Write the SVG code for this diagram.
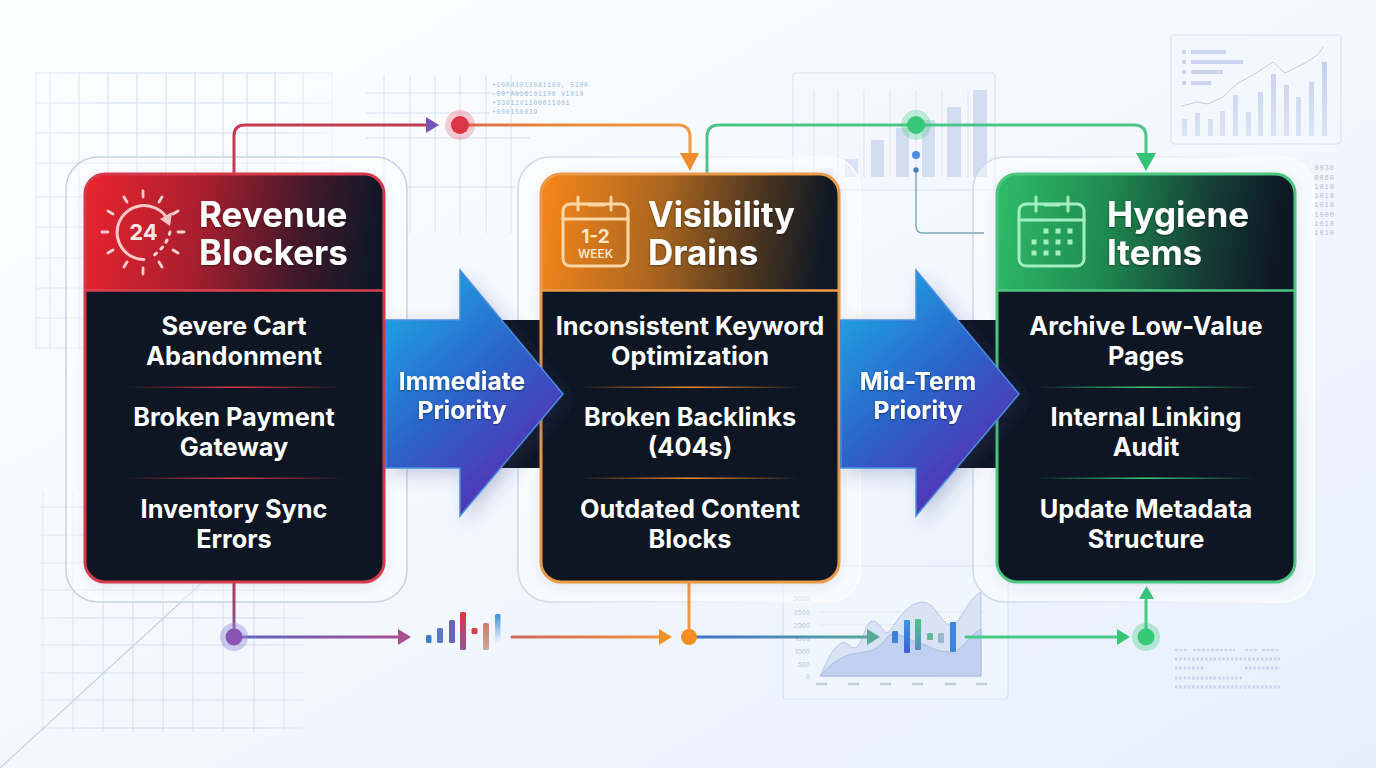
<svg xmlns="http://www.w3.org/2000/svg" width="1376" height="768" viewBox="0 0 1376 768">
<style>
text{font-family:Inter,"Noto Sans","Liberation Sans",sans-serif}
.title{font-size:35px;font-weight:700;fill:#fff;filter:url(#ts)}
.item{font-size:25.300px;font-weight:700;fill:#fff;text-anchor:middle}
.alabel{font-size:24.600px;font-weight:700;fill:#fff;text-anchor:middle;filter:url(#ts)}
.grid{stroke:#d3ddec;stroke-width:1;fill:none}
.panel{fill:#f3f7fd;fill-opacity:.55;stroke:#d9e1ee;stroke-width:1.2}
.halo{fill:#fff;fill-opacity:.42;stroke-width:1.5}
.bin{font-family:"Liberation Mono",monospace;font-size:6.500px;letter-spacing:.7px;fill:#9dbbd6}
.bin2{font-family:"Liberation Mono",monospace;font-size:7px;letter-spacing:1px;fill:#b3bdcf;text-anchor:end}
.tick{font-size:6.500px;fill:#c3ccde;text-anchor:end;font-weight:500}
.c{fill:none;stroke-width:3;stroke-linecap:round}
.ic{fill:none;stroke-width:3;stroke-linecap:round;stroke-linejoin:round}
.bar{fill:#d3ddf2}
</style>
<defs>
<linearGradient id="bg" x1="0" y1="0" x2="1" y2="1"><stop offset="0" stop-color="#fdfeff"/><stop offset=".5" stop-color="#f4f8fe"/><stop offset="1" stop-color="#e6effc"/></linearGradient>
<linearGradient id="h1" gradientUnits="userSpaceOnUse" x1="85" y1="205" x2="382" y2="255"><stop offset="0" stop-color="#e8232e"/><stop offset=".38" stop-color="#a91f2e"/><stop offset=".72" stop-color="#43192b"/><stop offset=".97" stop-color="#0f1725"/></linearGradient>
<linearGradient id="h2" gradientUnits="userSpaceOnUse" x1="541" y1="205" x2="830" y2="245"><stop offset="0" stop-color="#f5861a"/><stop offset=".42" stop-color="#a9651f"/><stop offset=".75" stop-color="#4a3520"/><stop offset=".98" stop-color="#0f1824"/></linearGradient>
<linearGradient id="h3" gradientUnits="userSpaceOnUse" x1="997" y1="205" x2="1286" y2="245"><stop offset="0" stop-color="#2fbb68"/><stop offset=".38" stop-color="#1f8a50"/><stop offset=".72" stop-color="#153f37"/><stop offset=".97" stop-color="#0e1824"/></linearGradient>
<linearGradient id="a1" gradientUnits="userSpaceOnUse" x1="390" y1="310" x2="540" y2="480"><stop offset="0" stop-color="#1fa0e2"/><stop offset=".5" stop-color="#2c62c8"/><stop offset="1" stop-color="#5a2bb3"/></linearGradient>
<linearGradient id="a2" gradientUnits="userSpaceOnUse" x1="845" y1="310" x2="995" y2="480"><stop offset="0" stop-color="#1fa0e2"/><stop offset=".5" stop-color="#2c62c8"/><stop offset="1" stop-color="#5a2bb3"/></linearGradient>
<linearGradient id="d1" gradientUnits="userSpaceOnUse" x1="125" y1="0" x2="345" y2="0"><stop offset="0" stop-color="#d8394b" stop-opacity="0"/><stop offset=".5" stop-color="#d8394b"/><stop offset="1" stop-color="#d8394b" stop-opacity="0"/></linearGradient>
<linearGradient id="d2" gradientUnits="userSpaceOnUse" x1="580" y1="0" x2="800" y2="0"><stop offset="0" stop-color="#f08c2a" stop-opacity="0"/><stop offset=".5" stop-color="#f08c2a"/><stop offset="1" stop-color="#f08c2a" stop-opacity="0"/></linearGradient>
<linearGradient id="d3" gradientUnits="userSpaceOnUse" x1="1036" y1="0" x2="1256" y2="0"><stop offset="0" stop-color="#3ccb7c" stop-opacity="0"/><stop offset=".5" stop-color="#3ccb7c"/><stop offset="1" stop-color="#3ccb7c" stop-opacity="0"/></linearGradient>
<linearGradient id="l2" gradientUnits="userSpaceOnUse" x1="460" y1="0" x2="690" y2="0"><stop offset="0" stop-color="#d9694a"/><stop offset=".4" stop-color="#e58a3c"/><stop offset="1" stop-color="#f09a45"/></linearGradient>
<linearGradient id="l3" gradientUnits="userSpaceOnUse" x1="234" y1="0" x2="400" y2="0"><stop offset="0" stop-color="#5a68c4"/><stop offset="1" stop-color="#a8508e"/></linearGradient>
<linearGradient id="l4" gradientUnits="userSpaceOnUse" x1="511" y1="0" x2="660" y2="0"><stop offset="0" stop-color="#cc6a5a"/><stop offset="1" stop-color="#ee9440"/></linearGradient>
<linearGradient id="l5" gradientUnits="userSpaceOnUse" x1="696" y1="0" x2="870" y2="0"><stop offset="0" stop-color="#4470cc"/><stop offset="1" stop-color="#58a89c"/></linearGradient>
<linearGradient id="v1" gradientUnits="userSpaceOnUse" x1="0" y1="582" x2="0" y2="637"><stop offset="0" stop-color="#b23a50"/><stop offset="1" stop-color="#7f5a9c"/></linearGradient>
<linearGradient id="hs" x1="0" y1="0" x2="1" y2="0"><stop offset="0" stop-color="#ced9ea"/><stop offset=".5" stop-color="#e6ecf6"/><stop offset="1" stop-color="#fff"/></linearGradient>
<linearGradient id="b1" x1="0" y1="0" x2="0" y2="1"><stop offset="0" stop-color="#e03344"/><stop offset="1" stop-color="#8b5a9c"/></linearGradient>
<linearGradient id="b2" x1="0" y1="0" x2="0" y2="1"><stop offset="0" stop-color="#3f8fdc"/><stop offset="1" stop-color="#3f8fdc" stop-opacity="0"/></linearGradient>
<linearGradient id="b3" x1="0" y1="0" x2="0" y2="1"><stop offset="0" stop-color="#d07a6a"/><stop offset="1" stop-color="#c9a89e"/></linearGradient>
<linearGradient id="b4" x1="0" y1="0" x2="0" y2="1"><stop offset="0" stop-color="#3f96de"/><stop offset="1" stop-color="#3d5fd0"/></linearGradient>
<linearGradient id="b5" x1="0" y1="0" x2="0" y2="1"><stop offset="0" stop-color="#4cc57f"/><stop offset="1" stop-color="#5a8ac8"/></linearGradient>
<linearGradient id="fv" gradientUnits="userSpaceOnUse" x1="0" y1="60" x2="0" y2="136"><stop offset="0" stop-color="#bfcbea" stop-opacity=".9"/><stop offset="1" stop-color="#d3dcf2" stop-opacity=".75"/></linearGradient>
<linearGradient id="fx" x1="0" y1="0" x2="1" y2="0"><stop offset="0" stop-color="#fff" stop-opacity=".5"/><stop offset=".25" stop-color="#fff"/><stop offset=".8" stop-color="#fff"/><stop offset="1" stop-color="#fff" stop-opacity=".2"/></linearGradient>
<mask id="mg1" maskUnits="userSpaceOnUse" x="30" y="60" width="310" height="320"><rect x="30" y="60" width="310" height="320" fill="url(#fx)"/></mask>
<mask id="mg2" maskUnits="userSpaceOnUse" x="30" y="480" width="290" height="260"><rect x="30" y="480" width="290" height="260" fill="url(#fx)"/></mask>
<filter id="ts" x="-10%" y="-20%" width="120%" height="150%"><feDropShadow dx="0" dy="1" stdDeviation="1.200" flood-color="#000" flood-opacity=".45"/></filter>
<filter id="ds" x="-20%" y="-20%" width="150%" height="140%"><feDropShadow dx="6" dy="6" stdDeviation="9" flood-color="#2a3a80" flood-opacity=".25"/></filter>
<filter id="cs" x="-10%" y="-10%" width="120%" height="120%"><feDropShadow dx="0" dy="3" stdDeviation="6" flood-color="#3a4a70" flood-opacity=".14"/></filter>
<clipPath id="cp1"><rect x="85" y="174" width="299" height="116" rx="20"/><rect x="85" y="220" width="299" height="70"/></clipPath>
<clipPath id="cp2"><rect x="541" y="174" width="298" height="116" rx="20"/><rect x="541" y="220" width="298" height="70"/></clipPath>
<clipPath id="cp3"><rect x="997" y="174" width="298" height="116" rx="20"/><rect x="997" y="220" width="298" height="70"/></clipPath>
</defs>

<rect id="background" width="1376" height="768" fill="url(#bg)"/>

<g id="backdrop">
<g mask="url(#mg1)" class="grid">
<path d="M36 72V350M50 72V350M79 72V350M108 72V350M137 72V350M166 72V350M195 72V350M223 72V350M247 72V350M275 72V350M303 72V350M332 72V350"/>
<path d="M36 73H332M36 103H332M36 133H332M36 163H332M36 197H332M36 227H332M36 258H332M36 288H332M36 318H332M36 348H332"/>
</g>
<g mask="url(#mg2)" class="grid">
<path d="M43 490V732M73 490V732M103 490V732M133 490V732M163 490V732M193 490V732M223 490V732M254 490V732M284 490V732"/>
<path d="M40 507H305M40 535H305M40 563H305M40 590H305M40 618H305M40 645H305M40 673H305M40 700H305M40 728H305"/>
</g>
<path d="M0 768L205 580" stroke="#c5d2e6" stroke-width="1.200" fill="none"/>
<path class="grid" d="M384 75V233M410 75V233M435 75V233M460 75V233M486 75V233M511 75V233M366 93H530M366 113H490M366 138H530M405 187H515" opacity=".85"/>
<text class="bin" x="492" y="87">+10041011081100, 5100</text>
<text class="bin" x="492" y="96">-00*A016101100 V1010</text>
<text class="bin" x="492" y="105">+33011V1100011001</text>
<text class="bin" x="492" y="114">+0001S0039</text>

<g id="chart-mid">
<rect class="panel" x="793" y="73" width="202" height="117" rx="3"/>
<path d="M814 90V177M838 90V177M864 90V177M890 90V177M916 90V177M942 90V177M968 90V177" stroke="#dde3ef" stroke-width="1" fill="none"/>
<rect class="bar" x="820" y="168" width="13" height="9" opacity=".6"/><rect class="bar" x="845" y="159" width="13" height="18" opacity=".8"/><rect class="bar" x="871" y="140" width="13" height="37"/><rect class="bar" x="896" y="128" width="13" height="49"/><rect class="bar" x="922" y="120" width="13" height="57"/><rect class="bar" x="947" y="107" width="14" height="70"/><rect class="bar" x="973" y="90" width="14" height="87"/>
</g>

<g id="chart-top-right">
<rect class="panel" x="1171" y="35" width="170" height="109" rx="4"/>
<g fill="#ccd5ee"><rect x="1182" y="50" width="4" height="4"/><rect x="1182" y="60" width="4" height="4"/><rect x="1182" y="70" width="4" height="4"/><rect x="1182" y="81" width="4" height="4"/><rect x="1191" y="50" width="35" height="4"/><rect x="1191" y="60" width="52" height="4"/><rect x="1191" y="70" width="32" height="4"/><rect x="1191" y="81" width="20" height="4"/></g>
<g fill="url(#fv)"><rect x="1182" y="119" width="5" height="17"/><rect x="1195" y="113" width="5" height="23"/><rect x="1208" y="119" width="5" height="17"/><rect x="1220" y="111" width="5" height="25"/><rect x="1233" y="95" width="5" height="41"/><rect x="1246" y="112" width="5" height="24"/><rect x="1258" y="92" width="5" height="44"/><rect x="1271" y="74" width="5" height="62"/><rect x="1284" y="85" width="5" height="51"/><rect x="1296" y="97" width="5" height="39"/><rect x="1309" y="82" width="5" height="54"/><rect x="1322" y="62" width="5" height="74"/></g>
<path d="M1182 106L1197 102L1208 104L1223 97Q1232 88 1238 83L1253 75L1273 62L1285 73L1307 62Q1320 54 1323 47" fill="none" stroke="#c2cce2" stroke-width="1"/>
</g>
<g>
<text class="bin2" x="1335" y="170">0030</text><text class="bin2" x="1335" y="180">0060</text><text class="bin2" x="1335" y="189">1010</text><text class="bin2" x="1335" y="198">1018</text><text class="bin2" x="1335" y="207">1010</text><text class="bin2" x="1335" y="217">1000</text><text class="bin2" x="1335" y="226">1010</text><text class="bin2" x="1335" y="235">1010</text>
</g>

<g id="chart-bottom">
<rect class="panel" x="783" y="566" width="225" height="133" rx="3"/>
<path d="M818 612H985M818 625H985M818 638H985" stroke="#e3e9f4" stroke-width="1" fill="none"/>
<text class="tick" x="810" y="601">3000</text><text class="tick" x="810" y="615">2500</text><text class="tick" x="810" y="628">2000</text><text class="tick" x="810" y="641">1500</text><text class="tick" x="810" y="654">1000</text><text class="tick" x="810" y="667">500</text><text class="tick" x="810" y="679">0</text>
<path d="M820 676C826 665 830 650 841 643C848 640 852 652 858 646C864 638 866 621 873 621C880 621 884 636 889 632C896 622 908 602 923 602C936 602 940 625 952 625C960 625 966 600 981 592V676Z" fill="#d3dff3" fill-opacity=".85" stroke="#b0bfe0" stroke-width=".8"/>
<path d="M820 676C830 664 842 655 857 653C870 652 878 650 889 635C900 632 908 640 917 642C930 646 936 652 950 652C962 652 970 634 981 629V676Z" fill="#bfcdf0" fill-opacity=".9" stroke="#a7b7dc" stroke-width=".8"/>
<path d="M816 684H827M848 684H859M880 684H891M912 684H923M945 684H956M976 684H987" stroke="#c3ccdf" stroke-width="2.500"/>
</g>
<path d="M1175 650H1188M1193 650H1235M1245 650H1258M1262 650H1280" stroke="#c2cde2" stroke-width="1.500" stroke-dasharray="3 1.500" fill="none"/>
<path d="M1175 659H1280M1175 668H1205M1245 668H1280M1175 678H1243M1175 687H1280" stroke="#b8c5de" stroke-width="3" stroke-dasharray="2.500 1.800" fill="none" opacity=".65"/>
</g>

<g id="halos">
<rect class="halo" x="66" y="157" width="341" height="445" rx="32" stroke="#c5d3e8"/>
<rect class="halo" x="518" y="157" width="342" height="445" rx="32" stroke="url(#hs)"/>
<rect class="halo" x="973" y="157" width="341" height="445" rx="32" stroke="url(#hs)"/>
</g>

<g id="connectors">
<path class="c" stroke="#c23c56" d="M234 174V136Q234 125 245 125H430"/>
<polygon points="426,117 426,133 439,125" fill="#7a55b8"/>
<path class="c" stroke="url(#l2)" d="M460 125H678Q690 125 690 137V155"/>
<polygon points="680,153 699,153 690,171" fill="#f08c2a"/>
<path class="c" stroke="#4cc48a" d="M707 174V137Q707 125 719 125H1134Q1146 125 1146 137V155"/>
<polygon points="1136,153 1156,153 1146,171" fill="#35c377"/>
<path d="M916 170V226Q916 233 923 233H984" fill="none" stroke="#7aa5b8" stroke-width="1.400"/>
<circle cx="916" cy="155" r="4" fill="#4a8fe0"/><circle cx="916" cy="170" r="2.700" fill="#3f80c8"/>
<path class="c" stroke="url(#v1)" d="M234 582V637"/>
<path class="c" stroke="url(#l3)" d="M234 637H400"/>
<polygon points="398,629 398,645 411,637" fill="#a8508e"/>
<path class="c" stroke="url(#l4)" d="M512 637H660"/>
<polygon points="659,629 659,645 672,637" fill="#f39026"/>
<path class="c" stroke="#eb9a48" d="M689 582V637"/>
<path class="c" stroke="url(#l5)" d="M696 637H870"/>
<polygon points="867,629 867,645 880,637" fill="#58a89c"/>
<path class="c" stroke="#48c884" d="M966 637H1118"/>
<polygon points="1117,629 1117,645 1130,637" fill="#3ac579"/>
<path class="c" stroke="#48c884" d="M1146 637V600"/>
<polygon points="1139,599 1154,599 1146.500,586" fill="#3ac579"/>
</g>
<g id="junctions">
<circle cx="460" cy="125" r="15" fill="#e8485a" opacity=".28"/><circle cx="460" cy="125" r="9" fill="#dd3545"/>
<circle cx="916" cy="125" r="15" fill="#3ccb7c" opacity=".3"/><circle cx="916" cy="125" r="9" fill="#38c878"/>
<circle cx="234" cy="637" r="14" fill="#8f88d8" opacity=".4"/><circle cx="234" cy="637" r="8.500" fill="#8a55b0"/>
<circle cx="689" cy="637" r="8" fill="#f68d22"/>
<circle cx="1146" cy="637" r="14" fill="#3ccb7c" opacity=".32"/><circle cx="1146" cy="637" r="8.500" fill="#35ca75"/>
</g>
<g id="signal-bars-1">
<rect x="426" y="635" width="5.500" height="8" rx="1.500" fill="#3f7fd0"/><rect x="437" y="628" width="6" height="15" rx="1.500" fill="#5d78c8"/><rect x="449" y="620" width="6" height="23" rx="1.500" fill="#6a62b8"/><rect x="460" y="612" width="6" height="38" rx="1.500" fill="url(#b1)"/><rect x="471.500" y="628" width="6" height="6" rx="1.500" fill="#cf4050"/><rect x="483" y="623" width="6" height="27" rx="1.500" fill="url(#b3)"/><rect x="495" y="614" width="5.500" height="29" rx="1.500" fill="url(#b2)"/>
</g>
<g id="signal-bars-2">
<rect x="892" y="631" width="6" height="12" rx="1" fill="#3d80d4"/><rect x="904" y="620" width="6" height="33" rx="1" fill="url(#b4)"/><rect x="915" y="619" width="6" height="31" rx="1" fill="url(#b5)"/><rect x="927" y="633" width="6" height="7" rx="1" fill="#62ba94"/><rect x="938" y="633" width="6" height="10" rx="1" fill="#9ab8cc"/><rect x="950" y="622" width="6" height="30" rx="1" fill="#3a86dc"/>
</g>

<g id="dark-bands"><rect x="384" y="320" width="157" height="148" fill="#0f1623"/><rect x="839" y="320" width="158" height="148" fill="#0f1623"/></g>

<g id="node-revenue-blockers">
<rect x="85" y="174" width="299" height="408" rx="20" fill="#0f1623" filter="url(#cs)"/>
<g clip-path="url(#cp1)"><rect x="85" y="174" width="299" height="116" fill="url(#h1)"/></g>
<rect x="85" y="174" width="299" height="408" rx="20" fill="none" stroke="#d53a4b" stroke-width="3"/>
<path d="M85 290.500H384" stroke="#d9404f" stroke-width="2.500"/>
<g class="ic" stroke="#fcd0d0">
<path d="M144 259.500A27 27 0 1 1 169 222" stroke="#ffc9c9"/>
<path d="M170 232Q166 248 150 258" stroke-dasharray="2.500 6"/>
<path d="M143 191V197M124 197L127 202M162 197L159 202M108 211L113 214M178 211L173 214M102 232H108M184 232H178M108 253L113 250M178 253L173 250M124 267L127 262M162 267L159 262M143 274V268" stroke-width="2.800"/>
</g>
<polygon points="172,212 170,226 160,219" fill="#fbc3c6"/>
<text x="143.500" y="240" font-size="22" font-weight="700" fill="#fde6e6" text-anchor="middle">24</text>
<text class="title" x="199" y="227">Revenue</text><text class="title" x="199" y="265">Blockers</text>
<text class="item" x="234" y="335">Severe Cart</text><text class="item" x="234" y="365">Abandonment</text>
<rect x="125" y="386.500" width="220" height="1.500" fill="url(#d1)"/>
<text class="item" x="234" y="426">Broken Payment</text><text class="item" x="234" y="456">Gateway</text>
<rect x="125" y="477.500" width="220" height="1.500" fill="url(#d1)"/>
<text class="item" x="234" y="518">Inventory Sync</text><text class="item" x="234" y="548">Errors</text>
</g>

<g id="node-visibility-drains">
<rect x="541" y="174" width="298" height="408" rx="20" fill="#0f1623" filter="url(#cs)"/>
<g clip-path="url(#cp2)"><rect x="541" y="174" width="298" height="116" fill="url(#h2)"/></g>
<rect x="541" y="174" width="298" height="408" rx="20" fill="none" stroke="#ea9a48" stroke-width="3"/>
<path d="M541 290.500H839" stroke="#ec9a48" stroke-width="2.500"/>
<g class="ic" stroke="#fbd7a8">
<rect x="563" y="204" width="65" height="62" rx="7"/><path d="M563 219H628M578 197V210M611 197V210M589 205H604"/>
</g>
<text x="595.500" y="243" font-size="19" font-weight="700" fill="#fde6c8" text-anchor="middle">1-2</text>
<text x="595.500" y="258" font-size="12" font-weight="600" fill="#fde6c8" text-anchor="middle">WEEK</text>
<text class="title" x="648" y="227" textLength="147" lengthAdjust="spacingAndGlyphs">Visibility</text><text class="title" x="648" y="265">Drains</text>
<text class="item" x="690" y="335">Inconsistent Keyword</text><text class="item" x="690" y="365">Optimization</text>
<rect x="580" y="386.500" width="220" height="1.500" fill="url(#d2)"/>
<text class="item" x="690" y="426">Broken Backlinks</text><text class="item" x="690" y="456">(404s)</text>
<rect x="580" y="477.500" width="220" height="1.500" fill="url(#d2)"/>
<text class="item" x="690" y="518">Outdated Content</text><text class="item" x="690" y="548">Blocks</text>
</g>

<g id="node-hygiene-items">
<rect x="997" y="174" width="298" height="408" rx="20" fill="#0f1623" filter="url(#cs)"/>
<g clip-path="url(#cp3)"><rect x="997" y="174" width="298" height="116" fill="url(#h3)"/></g>
<rect x="997" y="174" width="298" height="408" rx="20" fill="none" stroke="#4cc680" stroke-width="3"/>
<path d="M997 290.500H1295" stroke="#4cc680" stroke-width="2.500"/>
<g class="ic" stroke="#a4efc2">
<rect x="1019" y="204" width="65" height="62" rx="7"/><path d="M1019 220H1084M1036 197V211M1068 197V211M1045 205H1059"/>
</g>
<g fill="#a4efc2"><rect x="1043.500" y="228.500" width="5" height="5"/><rect x="1055.500" y="228.500" width="5" height="5"/><rect x="1067.500" y="228.500" width="5" height="5"/><rect x="1031.500" y="239.500" width="5" height="5"/><rect x="1043.500" y="239.500" width="5" height="5"/><rect x="1055.500" y="239.500" width="5" height="5"/><rect x="1067.500" y="239.500" width="5" height="5"/><rect x="1031.500" y="250.500" width="5" height="5"/><rect x="1043.500" y="250.500" width="5" height="5"/><rect x="1055.500" y="250.500" width="5" height="5"/></g>
<text class="title" x="1107" y="227">Hygiene</text><text class="title" x="1107" y="265">Items</text>
<text class="item" x="1146" y="335">Archive Low-Value</text><text class="item" x="1146" y="365">Pages</text>
<rect x="1036" y="386.500" width="220" height="1.500" fill="url(#d3)"/>
<text class="item" x="1146" y="426">Internal Linking</text><text class="item" x="1146" y="456">Audit</text>
<rect x="1036" y="477.500" width="220" height="1.500" fill="url(#d3)"/>
<text class="item" x="1146" y="518">Update Metadata</text><text class="item" x="1146" y="548">Structure</text>
</g>

<g id="arrow-immediate-priority">
<polygon points="386,320 460,320 460,270 563,394 460,516 460,468 386,468" fill="url(#a1)" stroke="#4a8ee0" stroke-width="1.500" filter="url(#ds)"/>
<text class="alabel" x="462" y="390">Immediate</text><text class="alabel" x="462" y="419">Priority</text>
</g>
<g id="arrow-mid-term-priority">
<polygon points="841,320 916,320 916,270 1019,394 916,516 916,468 841,468" fill="url(#a2)" stroke="#4a8ee0" stroke-width="1.500" filter="url(#ds)"/>
<text class="alabel" x="918" y="390">Mid-Term</text><text class="alabel" x="918" y="419">Priority</text>
</g>
</svg>
